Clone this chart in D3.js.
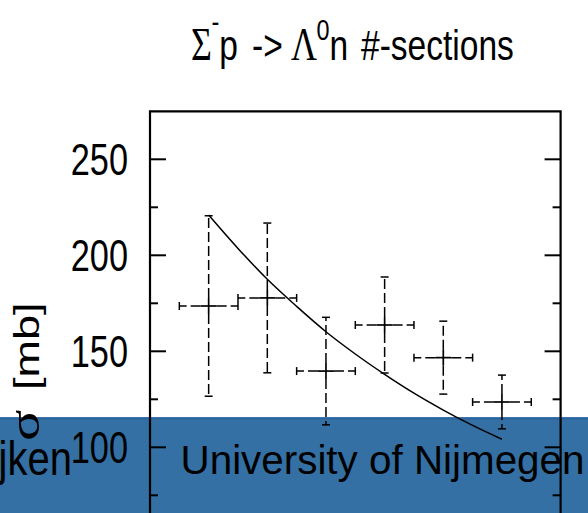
<!DOCTYPE html>
<html><head><meta charset="utf-8">
<script src="https://cdn.jsdelivr.net/npm/d3@7"></script>
<style>html,body{margin:0;padding:0;background:#fff;} svg{display:block}</style>
</head><body>
<svg id="c" width="588" height="513"></svg>
<script>
// ---- data ----
const binCenters = [1, 2, 3, 4, 5, 6];
const binHalfWidth = [0.5, 0.5, 0.5, 0.5, 0.5, 0.5];
const crossSection = [173.6, 177.8, 139.7, 163.7, 146.7, 123.6];
const crossSectionErr = [47, 39, 28, 25, 19, 14];
const fitX = [1, 1.5, 2, 2.5, 3, 3.5, 4, 4.5, 5, 5.5, 6];
const fitY = [221, 203.6, 187.5, 173.4, 160.2, 148.6, 138, 128.2, 119.4, 111.4, 104.2];
const yMajorTicks = [100, 150, 200, 250];
const yMinorTicks = [75, 125, 175, 225];
const bannerLeft = "jken";
const bannerRight = "University of Nijmegen";

const svg = d3.select("#c");
const W = 588, H = 513;
const SANS = "'Liberation Sans', Arial, Helvetica, sans-serif";
const SERIF = "'Liberation Serif', 'Times New Roman', serif";

svg.append("rect").attr("width", W).attr("height", H).attr("fill", "#fff");

// ---- banner (behind chart) ----
const bannerTop = 417.3;
svg.append("rect").attr("x", 0).attr("y", bannerTop).attr("width", W).attr("height", H - bannerTop).attr("fill", "#3470a3");
svg.append("rect").attr("x", 0).attr("y", bannerTop).attr("width", W).attr("height", 2.2).attr("fill", "#2a64a0");
svg.append("text").attr("x", 180.5).attr("y", 474)
  .attr("font-family", SANS).attr("font-size", 40).attr("fill", "#000")
  .attr("textLength", 404).attr("lengthAdjust", "spacingAndGlyphs")
  .text(bannerRight);
svg.append("text").attr("transform", "translate(72,475) scale(1,1.2)")
  .attr("text-anchor", "end")
  .attr("font-family", SANS).attr("font-size", 40).attr("fill", "#000")
  .text(bannerLeft);

// ---- scales ----
const x = d3.scaleLinear().domain([0, 7]).range([150, 560.6]);
const y = d3.scaleLinear().domain([0, 275]).range([639.3, 111.3]);
const [x0, x1] = x.range();
const [yb, yt] = y.range();

// ---- frame ----
svg.append("path")
  .attr("d", `M${x0},${yb}V${yt}H${x1}V${yb}`)
  .attr("fill", "none").attr("stroke", "#000").attr("stroke-width", 2.2);

// ---- y axis ticks (left and right, inward) ----
function ticks(vals, len) {
  const g = svg.append("g").attr("stroke", "#000").attr("stroke-width", 2);
  g.selectAll("line.l").data(vals).join("line").attr("class", "l")
    .attr("x1", x0).attr("x2", x0 + len).attr("y1", d => y(d)).attr("y2", d => y(d));
  g.selectAll("line.r").data(vals).join("line").attr("class", "r")
    .attr("x1", x1).attr("x2", x1 - len).attr("y1", d => y(d)).attr("y2", d => y(d));
}
ticks(yMajorTicks, 16);
ticks(yMinorTicks, 8);

// tick labels (horizontally condensed as in the reference)
svg.append("g").selectAll("text").data(yMajorTicks).join("text")
  .attr("transform", d => `translate(128,${y(d) + 15.8}) scale(0.78,1)`)
  .attr("text-anchor", "end")
  .attr("font-family", SANS).attr("font-size", 44).attr("fill", "#000")
  .text(d => d);

// y axis title: "[mb]" ends at the top, sigma placed below it
svg.append("text")
  .attr("transform", "translate(39,302.5) scale(0.78,1) rotate(-90)")
  .attr("text-anchor", "end")
  .attr("font-family", SANS).attr("font-size", 45).attr("fill", "#000")
  .text("[mb]");
svg.append("text")
  .attr("transform", "translate(39,441) scale(0.78,1) rotate(-90)")
  .attr("text-anchor", "start")
  .attr("font-family", SERIF).attr("font-size", 58).attr("fill", "#000")
  .text("σ");

// ---- title ----
function tpiece(str, px, base, fam, size) {
  svg.append("text").attr("transform", `translate(${px},${base}) scale(0.78,1)`)
    .attr("font-family", fam).attr("font-size", size).attr("fill", "#000").text(str);
}
tpiece("Σ", 191, 60, SERIF, 46);
tpiece("-", 211.5, 32, SANS, 30);
tpiece("p", 219.3, 60, SANS, 43);
tpiece("->", 252, 60, SANS, 43);
tpiece("Λ", 291, 60, SERIF, 46);
tpiece("0", 316.5, 40, SANS, 30);
tpiece("n", 329.5, 60, SANS, 43);
tpiece("#-sections", 361, 60, SANS, 43);

// ---- fit curve ----
const line = d3.line().x(d => x(d[0])).y(d => y(d[1])).curve(d3.curveMonotoneX);
svg.append("path").datum(fitX.map((v, i) => [v, fitY[i]]))
  .attr("d", line).attr("fill", "none").attr("stroke", "#000").attr("stroke-width", 1.5);

// ---- data points with dashed error bars ----
const pts = binCenters.map((c, i) => ({ c, hw: binHalfWidth[i], v: crossSection[i], e: crossSectionErr[i] }));
const m = 8, cap = 4;
const g = svg.append("g").attr("stroke", "#000").attr("stroke-width", 1.5).attr("fill", "none");
pts.forEach(p => {
  const cx = x(p.c), cy = y(p.v);
  const xl = x(p.c - p.hw), xr = x(p.c + p.hw), yu = y(p.v + p.e), yd = y(p.v - p.e);
  const dash = "10,4";
  g.append("line").attr("x1", cx - m).attr("x2", xl).attr("y1", cy).attr("y2", cy).attr("stroke-dasharray", dash);
  g.append("line").attr("x1", cx + m).attr("x2", xr).attr("y1", cy).attr("y2", cy).attr("stroke-dasharray", dash);
  g.append("line").attr("x1", cx).attr("x2", cx).attr("y1", cy - m).attr("y2", yu).attr("stroke-dasharray", dash);
  g.append("line").attr("x1", cx).attr("x2", cx).attr("y1", cy + m).attr("y2", yd).attr("stroke-dasharray", dash);
  // end caps
  g.append("line").attr("x1", xl).attr("x2", xl).attr("y1", cy - cap).attr("y2", cy + cap);
  g.append("line").attr("x1", xr).attr("x2", xr).attr("y1", cy - cap).attr("y2", cy + cap);
  g.append("line").attr("x1", cx - cap).attr("x2", cx + cap).attr("y1", yu).attr("y2", yu);
  g.append("line").attr("x1", cx - cap).attr("x2", cx + cap).attr("y1", yd).attr("y2", yd);
  // plus marker
  g.append("line").attr("x1", cx - m).attr("x2", cx + m).attr("y1", cy).attr("y2", cy).attr("stroke-width", 1.7);
  g.append("line").attr("x1", cx).attr("x2", cx).attr("y1", cy - m).attr("y2", cy + m).attr("stroke-width", 1.7);
});
</script>
</body></html>
